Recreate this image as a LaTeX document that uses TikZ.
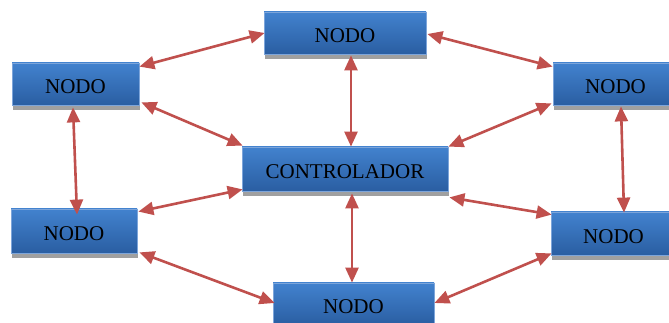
\documentclass[tikz,border=0pt]{standalone}
\usepackage{fontspec}
\setmainfont{Liberation Serif}
\usetikzlibrary{arrows.meta,shadows}

\definecolor{boxtop}{RGB}{66,130,206}
\definecolor{boxbottom}{RGB}{42,94,162}
\definecolor{boxedge}{RGB}{125,165,218}
\definecolor{boxshade}{RGB}{160,160,160}
\definecolor{linkred}{RGB}{192,80,77}

\tikzset{
  nodo/.style={
    rectangle, inner sep=0pt,
    text height=20pt, text depth=0pt,
    top color=boxtop, bottom color=boxbottom,
    draw=boxedge, line width=0.8pt,
    general shadow={fill=boxshade, shadow xshift=1pt, shadow yshift=-5pt},
    font=\fontsize{21}{24}\selectfont, text=black
  },
  link/.style={
    draw=linkred, line width=2.6pt,
    {Triangle[length=15pt,width=13pt]}-{Triangle[length=15pt,width=13pt]}
  }
}

\begin{document}
\begin{tikzpicture}[x=1pt,y=1pt]
  \useasboundingbox (0,0) rectangle (669,323);

  % boxes
  \node[nodo, minimum width=162pt, minimum height=42pt] (t)    at (345,290)   {NODO};
  \node[nodo, minimum width=127pt, minimum height=42pt] (lu)   at (75.5,239)  {NODO};
  \node[nodo, minimum width=125pt, minimum height=42pt] (ru)   at (615.5,239) {NODO};
  \node[nodo, minimum width=206pt, minimum height=44pt] (ctrl) at (345,154)   {CONTROLADOR};
  \node[nodo, minimum width=126pt, minimum height=44pt] (ll)   at (74,92)     {NODO};
  \node[nodo, minimum width=125pt, minimum height=43pt] (rl)   at (613.5,89.5){NODO};
  \node[nodo, minimum width=161pt, minimum height=42pt] (b)    at (353.5,19)  {NODO};

  % two-way links
  \draw[link] ([shift={(0,-4)}]lu.north east) -- ([shift={(1,0)}]t.west);
  \draw[link] ([shift={(1,-1)}]t.east) -- ([shift={(0,-4)}]ru.north west);
  \draw[link] ([shift={(6,-1)}]t.south) -- ([shift={(6,0)}]ctrl.north);
  \draw[link] ([shift={(-2.5,-2)}]lu.south) -- ([shift={(3,-6)}]ll.north);
  \draw[link] ([shift={(5.5,-1)}]ru.south) -- ([shift={(10.5,-1)}]rl.north);
  \draw[link] ([shift={(2,3)}]lu.south east) -- ([shift={(1,1)}]ctrl.north west);
  \draw[link] ([shift={(-1,2)}]ru.south west) -- (ctrl.north east);
  \draw[link] ([shift={(1,2)}]ctrl.south west) -- ([shift={(1,-3)}]ll.north east);
  \draw[link] ([shift={(1,-6)}]ctrl.south east) -- ([shift={(1,-3)}]rl.north west);
  \draw[link] ([shift={(2,1)}]ll.south east) -- ([shift={(2,1)}]b.west);
  \draw[link] ([shift={(1,2)}]rl.south west) -- ([shift={(0,1)}]b.east);
  \draw[link] ([shift={(7,-2)}]ctrl.south) -- ([shift={(-1.5,0)}]b.north);
\end{tikzpicture}
\end{document}
